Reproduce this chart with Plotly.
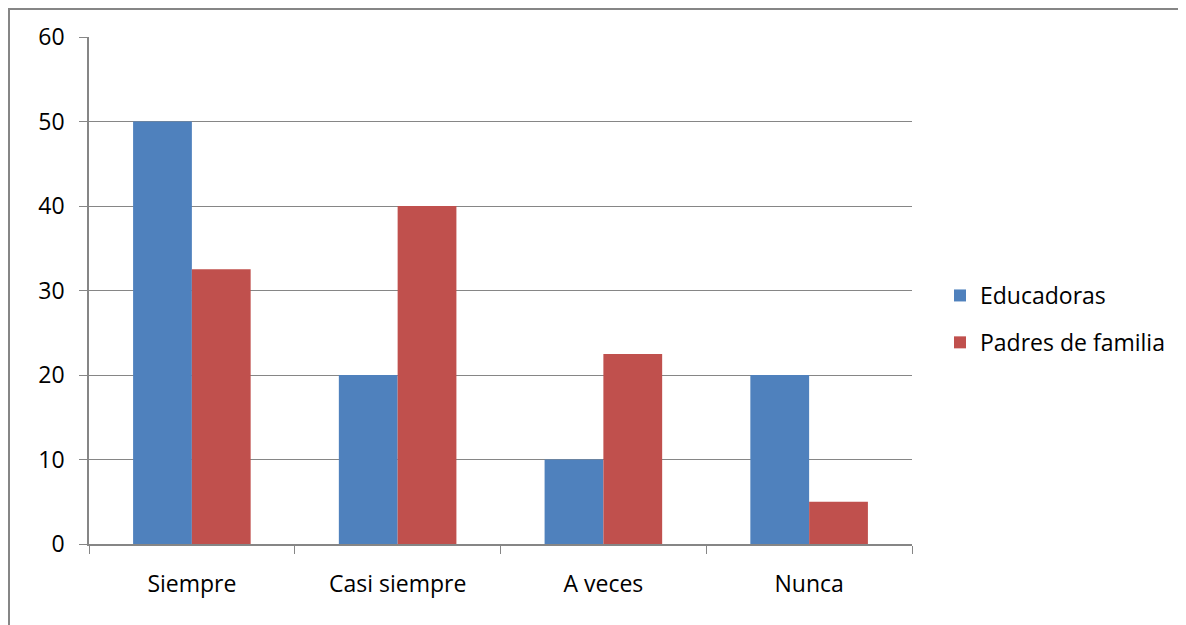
import plotly.graph_objects as go

categorias = ["Siempre", "Casi siempre", "A veces", "Nunca"]
educadoras = [50, 20, 10, 20]
padres = [32.5, 40, 22.5, 5]
ticks_y = [0, 10, 20, 30, 40, 50, 60]

# page has an 8px body margin, so figure origin sits at (8, 8)
W, H = 1178, 617
L, R, T, B = 81, 274, 29, 81
pw = W - L - R
ph = H - T - B

fig = go.Figure()
fig.add_trace(go.Bar(x=categorias, y=educadoras, name="Educadoras",
                     marker=dict(color="#4F81BD", line=dict(width=0)),
                     legendgroup="a"))
fig.add_trace(go.Bar(x=categorias, y=padres, name="Padres de familia",
                     marker=dict(color="#C0504D", line=dict(width=0)),
                     legendgroup="b"))

# outer chart border
fig.add_shape(type="rect", xref="paper", yref="paper",
              x0=(1 - L) / pw, x1=(W + 5 - L) / pw,
              y0=-(H + 5 - T - ph) / ph, y1=(H - 1 - B) / ph,
              line=dict(color="#868686", width=2), layer="below")

fig.update_layout(
    width=W, height=H,
    margin=dict(l=L, r=R, t=T, b=B),
    paper_bgcolor="white", plot_bgcolor="white",
    font=dict(family="Open Sans", size=23, color="black"),
    barmode="group", bargap=0.4286, bargroupgap=0,
    showlegend=True,
    legend=dict(x=(932 - L) / pw, y=(H - B - 266) / ph, xanchor="left", yanchor="top",
                tracegroupgap=14, font=dict(size=23),
                bgcolor="rgba(0,0,0,0)"),
)
fig.update_xaxes(showline=True, linecolor="#868686", linewidth=1.5,
                 ticks="outside", tickson="boundaries", ticklen=8,
                 tickcolor="#868686", showgrid=False, ticklabelstandoff=19)
fig.update_yaxes(range=[0, 60], tickvals=ticks_y, showline=True,
                 linecolor="#868686", linewidth=1.5, ticks="outside",
                 ticklen=8, tickcolor="#868686", showgrid=True,
                 gridcolor="#868686", gridwidth=1.2, zeroline=False,
                 ticklabelstandoff=10)

fig.write_html("out.html")
